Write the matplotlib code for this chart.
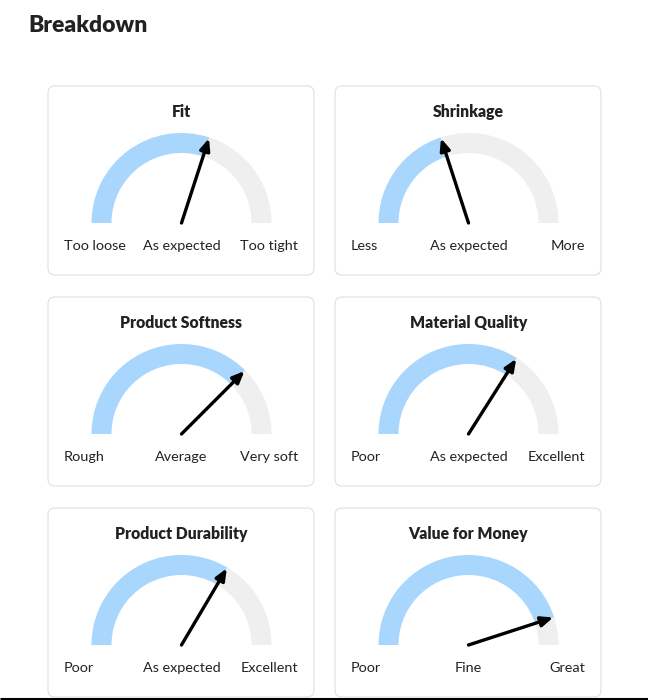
import numpy as np
import matplotlib
matplotlib.use("Agg")
import matplotlib.pyplot as plt
from matplotlib.patches import Wedge, FancyBboxPatch

# ── Data ──────────────────────────────────────────────────────────────────────
titles = ["Fit", "Shrinkage", "Product Softness", "Material Quality",
          "Product Durability", "Value for Money"]
left_labels = ["Too loose", "Less", "Rough", "Poor", "Poor", "Poor"]
mid_labels = ["As expected", "As expected", "Average", "As expected",
              "As expected", "Fine"]
right_labels = ["Too tight", "More", "Very soft", "Excellent", "Excellent", "Great"]
scores = [60, 40, 75, 68, 67, 90]   # position on a 0-100 gauge

# ── Styling ──────────────────────────────────────────────────────────────────
W, H = 648, 700
BLUE = "#A9D6FD"
GREY = "#EFEFEF"
TEXT = "#222222"
EDGE = "#DEDEDE"
plt.rcParams["font.family"] = ["Lato", "DejaVu Sans"]

CARD_X = [48, 335]
CARD_Y = [86, 297, 508]
CARD_W, CARD_H = 266, 189
R_OUT, R_W = 90, 20

fig = plt.figure(figsize=(W / 100, H / 100), dpi=100)
ax = fig.add_axes([0, 0, 1, 1])
ax.set_xlim(0, W)
ax.set_ylim(0, H)
ax.axis("off")


def Y(y):
    # image-space y (top down) to axes y (bottom up)
    return H - y


ax.text(28, Y(25), "Breakdown", fontsize=16.5, fontweight="heavy",
        color=TEXT, ha="left", va="center")

for i, title in enumerate(titles):
    cx0 = CARD_X[i % 2]
    cy0 = CARD_Y[i // 2]
    card = FancyBboxPatch((cx0, Y(cy0 + CARD_H)), CARD_W, CARD_H,
                          boxstyle="round,pad=0,rounding_size=7",
                          facecolor="white", edgecolor=EDGE, linewidth=0.75)
    ax.add_patch(card)

    gx = cx0 + CARD_W / 2 + 0.5
    gy = Y(cy0 + 137)
    ang = 180 - 180 * scores[i] / 100

    ax.add_patch(Wedge((gx, gy), R_OUT, 0, ang, width=R_W,
                       facecolor=GREY, edgecolor="none"))
    ax.add_patch(Wedge((gx, gy), R_OUT, ang, 180, width=R_W,
                       facecolor=BLUE, edgecolor="none"))

    tip = (gx + (R_OUT - 1) * np.cos(np.radians(ang)),
           gy + (R_OUT - 1) * np.sin(np.radians(ang)))
    ax.annotate("", xy=tip, xytext=(gx, gy),
                arrowprops=dict(arrowstyle="-|>,head_length=0.7,head_width=0.3",
                                color="black", lw=2.4,
                                shrinkA=0, shrinkB=0))

    ax.text(gx, Y(cy0 + 26), title, fontsize=11.3, fontweight="heavy",
            color=TEXT, ha="center", va="center")
    ly = Y(cy0 + 160)
    ax.text(cx0 + 16, ly, left_labels[i], fontsize=10.4, color=TEXT,
            ha="left", va="center")
    ax.text(gx, ly, mid_labels[i], fontsize=10.4, color=TEXT,
            ha="center", va="center")
    ax.text(cx0 + CARD_W - 16, ly, right_labels[i], fontsize=10.4, color=TEXT,
            ha="right", va="center")

# page edge at the very bottom
ax.plot([0, W], [Y(698.5), Y(698.5)], color="black", lw=2.2,
        solid_capstyle="butt")

fig.savefig("out.png", dpi=100)
